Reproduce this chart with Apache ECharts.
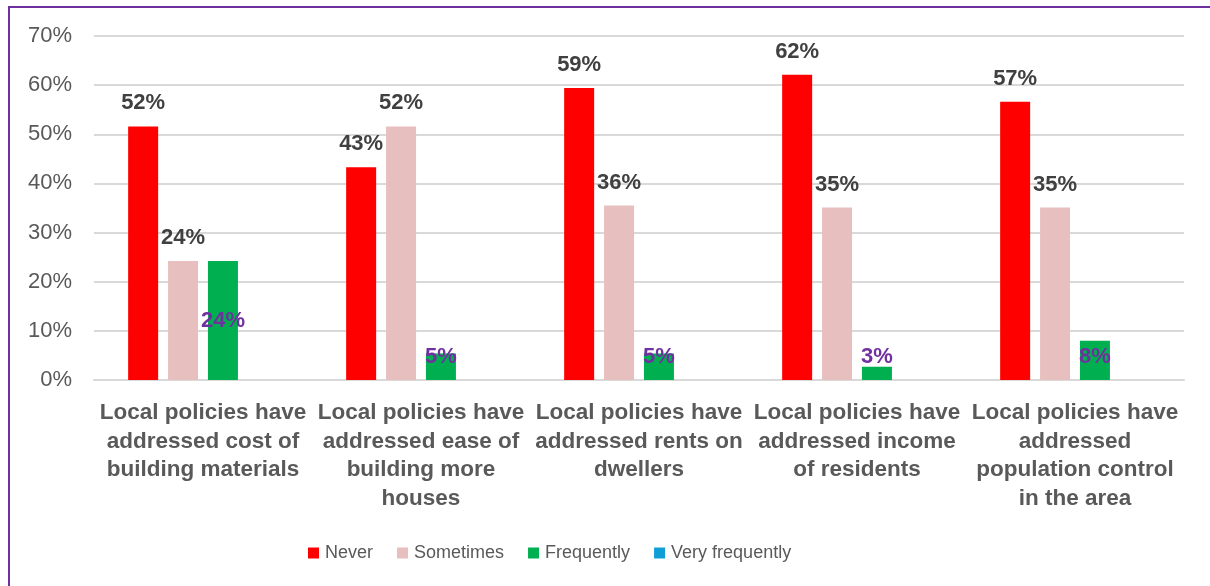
<!DOCTYPE html>
<html>
<head>
<meta charset="utf-8">
<script src="https://cdn.jsdelivr.net/npm/echarts@6/dist/echarts.min.js"></script>
<style>
html,body{margin:0;padding:0;background:#fff;}
#chart{width:1210px;height:586px;}
</style>
</head>
<body>
<div id="chart"></div>
<script>
const categories = [
  "Local policies have\naddressed cost of\nbuilding materials",
  "Local policies have\naddressed ease of\nbuilding more\nhouses",
  "Local policies have\naddressed rents on\ndwellers",
  "Local policies have\naddressed income\nof residents",
  "Local policies have\naddressed\npopulation control\nin the area"
];
const seriesNames = ["Never", "Sometimes", "Frequently", "Very frequently"];
const never = [51.6, 43.3, 59.4, 62.1, 56.6];
const sometimes = [24.2, 51.6, 35.5, 35.1, 35.1];
const frequently = [24.2, 5.4, 5.4, 2.7, 8.0];
const veryFrequently = [0, 0, 0, 0, 0];
const yTicks = [0, 10, 20, 30, 40, 50, 60, 70];

const FONT = "'Liberation Sans', Arial, sans-serif";
const pct = p => Math.round(p.value) + '%';

const topLabel = {
  show: true, position: 'top', distance: 12,
  color: '#404040', fontWeight: 'bold', fontSize: 22, fontFamily: FONT,
  formatter: pct
};

const chart = echarts.init(document.getElementById('chart'), null, {renderer: 'canvas'});
chart.setOption({
  animation: false,
  backgroundColor: '#fff',
  graphic: [{
    type: 'rect', z: 100,
    shape: {x: 9, y: 7, width: 1400, height: 800},
    style: {fill: 'none', stroke: '#7030A0', lineWidth: 2}
  }],
  grid: {left: 94, right: 26, top: 36, bottom: 206, containLabel: false},
  legend: {
    bottom: 19, left: 303,
    itemWidth: 11, itemHeight: 11, itemGap: 24,
    icon: 'rect',
    textStyle: {color: '#595959', fontSize: 18, fontFamily: FONT, padding: [0, 0, 0, 1]},
    data: seriesNames
  },
  xAxis: {
    type: 'category', data: categories,
    axisTick: {show: false},
    axisLine: {lineStyle: {color: '#D9D9D9', width: 2}},
    axisLabel: {
      color: '#595959', fontWeight: 'bold', fontSize: 22.5, fontFamily: FONT,
      lineHeight: 28.5, margin: 19, interval: 0, align: 'center'
    }
  },
  yAxis: {
    type: 'value', min: yTicks[0], max: yTicks[yTicks.length - 1], interval: 10,
    axisLine: {show: false}, axisTick: {show: false},
    splitLine: {lineStyle: {color: '#D9D9D9', width: 2}},
    axisLabel: {
      color: '#595959', fontSize: 22, fontFamily: FONT, margin: 22,
      formatter: v => v + '%'
    }
  },
  series: [
    {
      name: seriesNames[0], type: 'bar', data: never,
      barWidth: 30, barGap: '33%',
      itemStyle: {color: '#FF0000'},
      label: topLabel
    },
    {
      name: seriesNames[1], type: 'bar', data: sometimes,
      barWidth: 30, barGap: '33%',
      itemStyle: {color: '#E8BFBF'},
      label: topLabel
    },
    {
      name: seriesNames[2], type: 'bar',
      data: frequently.map(v => ({
        value: v,
        label: v < 10 ? {position: 'insideBottom', distance: 12} : {position: 'inside'}
      })),
      barWidth: 30, barGap: '33%',
      itemStyle: {color: '#00B050'},
      label: {
        show: true, color: '#7030A0', fontWeight: 'bold', fontSize: 22, fontFamily: FONT,
        formatter: pct
      }
    },
    {
      name: seriesNames[3], type: 'bar', data: veryFrequently,
      barWidth: 30, barGap: '33%',
      itemStyle: {color: '#0F9ED5'},
      label: {show: false}
    }
  ]
});
</script>
</body>
</html>
